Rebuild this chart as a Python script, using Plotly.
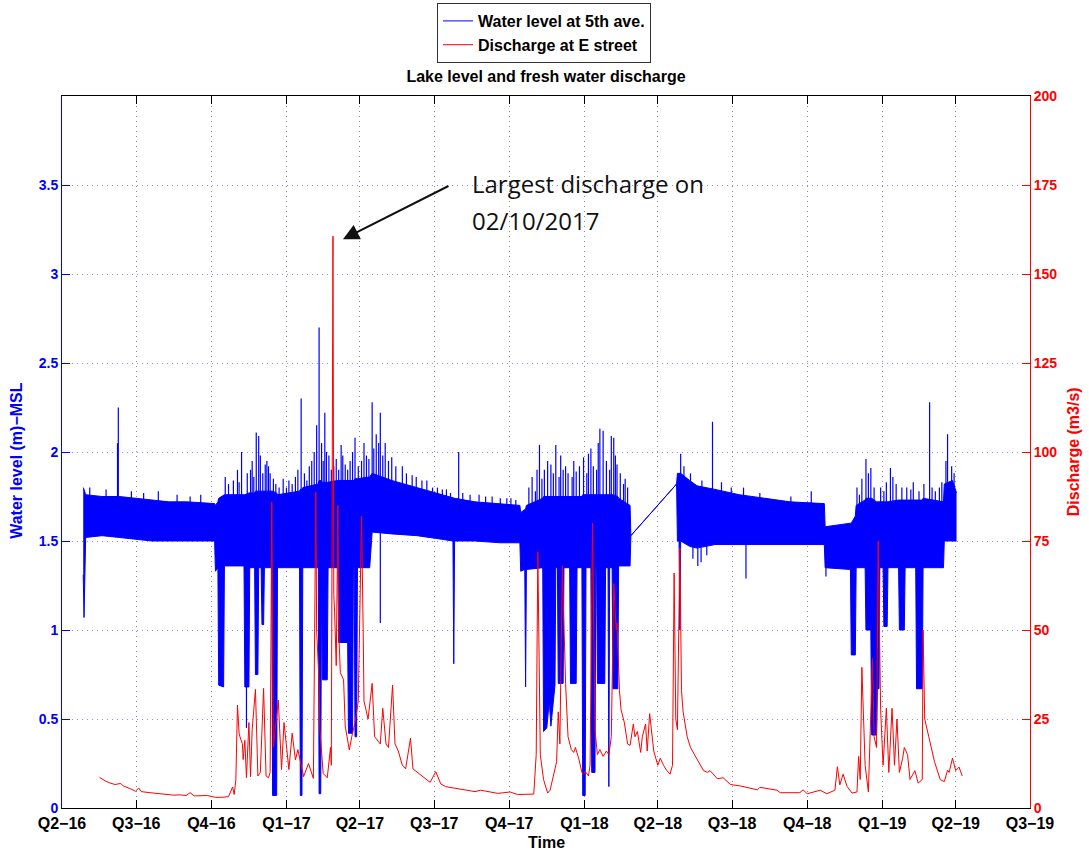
import plotly.graph_objects as go

# ---------------- Discharge at E street (m3/s) ----------------
q_dates = [
    "2016-05-17", "2016-05-24", "2016-05-30", "2016-06-05", "2016-06-12", "2016-06-15", "2016-06-24", "2016-06-30",
    "2016-07-04", "2016-07-07", "2016-07-18", "2016-07-30", "2016-08-16", "2016-08-24", "2016-08-31", "2016-09-05",
    "2016-09-10", "2016-09-26", "2016-10-06", "2016-10-14", "2016-10-22", "2016-10-27", "2016-10-29", "2016-10-31",
    "2016-11-02", "2016-11-04", "2016-11-05", "2016-11-08", "2016-11-09", "2016-11-11", "2016-11-13", "2016-11-16",
    "2016-11-18", "2016-11-20", "2016-11-24", "2016-11-27", "2016-11-30", "2016-12-04", "2016-12-07", "2016-12-10",
    "2016-12-12", "2016-12-14", "2016-12-15", "2016-12-16", "2016-12-22", "2016-12-26", "2016-12-29", "2017-01-04",
    "2017-01-08", "2017-01-12", "2017-01-15", "2017-01-18", "2017-01-22", "2017-01-28", "2017-02-03", "2017-02-06",
    "2017-02-07", "2017-02-10", "2017-02-11", "2017-02-15", "2017-02-20", "2017-02-24", "2017-02-25", "2017-02-27",
    "2017-02-28", "2017-03-01", "2017-03-03", "2017-03-05", "2017-03-06", "2017-03-08", "2017-03-12", "2017-03-14",
    "2017-03-19", "2017-03-22", "2017-03-26", "2017-03-30", "2017-04-03", "2017-04-05", "2017-04-06", "2017-04-09",
    "2017-04-11", "2017-04-16", "2017-04-19", "2017-04-26", "2017-04-29", "2017-05-03", "2017-05-06", "2017-05-11",
    "2017-05-14", "2017-05-18", "2017-05-23", "2017-05-27", "2017-06-02", "2017-06-05", "2017-06-14", "2017-06-24",
    "2017-06-26", "2017-07-03", "2017-07-09", "2017-07-15", "2017-07-30", "2017-08-20", "2017-08-27", "2017-09-17",
    "2017-10-02", "2017-10-11", "2017-10-31", "2017-11-03", "2017-11-05", "2017-11-08", "2017-11-12", "2017-11-17",
    "2017-11-20", "2017-11-24", "2017-11-28", "2017-11-30", "2017-12-02", "2017-12-05", "2017-12-09", "2017-12-12",
    "2017-12-16", "2017-12-19", "2017-12-21", "2017-12-25", "2017-12-29", "2017-12-31", "2018-01-02", "2018-01-06",
    "2018-01-08", "2018-01-11", "2018-01-14", "2018-01-17", "2018-01-20", "2018-01-24", "2018-01-28", "2018-01-31",
    "2018-02-03", "2018-02-06", "2018-02-09", "2018-02-10", "2018-02-13", "2018-02-15", "2018-02-19", "2018-02-23",
    "2018-02-26", "2018-03-02", "2018-03-04", "2018-03-07", "2018-03-11", "2018-03-13", "2018-03-17", "2018-03-19",
    "2018-03-22", "2018-03-27", "2018-04-01", "2018-04-04", "2018-04-08", "2018-04-12", "2018-04-16", "2018-04-19",
    "2018-04-21", "2018-04-23", "2018-04-25", "2018-04-28", "2018-04-30", "2018-05-02", "2018-05-07", "2018-05-11",
    "2018-05-19", "2018-05-27", "2018-06-01", "2018-06-04", "2018-06-13", "2018-06-20", "2018-06-29", "2018-07-11",
    "2018-08-01", "2018-08-04", "2018-08-25", "2018-08-29", "2018-09-22", "2018-09-26", "2018-10-01", "2018-10-17",
    "2018-10-25", "2018-11-04", "2018-11-07", "2018-11-10", "2018-11-14", "2018-11-19", "2018-11-25", "2018-12-01",
    "2018-12-03", "2018-12-05", "2018-12-07", "2018-12-11", "2018-12-15", "2018-12-20", "2018-12-22", "2018-12-25",
    "2018-12-27", "2018-12-30", "2019-01-02", "2019-01-06", "2019-01-09", "2019-01-13", "2019-01-16", "2019-01-19",
    "2019-01-22", "2019-01-26", "2019-01-28", "2019-02-01", "2019-02-04", "2019-02-10", "2019-02-14", "2019-02-19",
    "2019-02-20", "2019-02-22", "2019-02-27", "2019-03-06", "2019-03-13", "2019-03-18", "2019-03-22", "2019-03-24",
    "2019-03-28", "2019-04-01", "2019-04-05", "2019-04-09",
]
q_vals = [
    8.6, 7.6, 7.0, 6.6, 6.9, 6.2, 5.4, 4.7,
    5.6, 4.6, 4.3, 4.0, 3.6, 3.7, 3.5, 4.3,
    3.4, 3.5, 3.0, 3.0, 3.2, 5.9, 3.8, 8.0,
    28.9, 21.0, 20.0, 18.0, 13.6, 19.0, 8.5, 24.0,
    8.8, 22.0, 33.3, 9.0, 10.0, 33.6, 9.0, 8.5,
    10.0, 86.0, 30.0, 17.2, 30.3, 10.8, 24.0, 10.8,
    21.0, 13.5, 16.4, 13.0, 8.8, 12.5, 8.3, 88.7,
    50.0, 35.0, 22.0, 9.7, 8.5, 17.0, 12.0, 160.6,
    60.0, 55.0, 40.0, 85.0, 50.0, 38.0, 36.0, 23.0,
    16.3, 20.0, 24.0, 30.0, 82.0, 50.0, 30.0, 27.0,
    25.0, 35.0, 20.0, 18.0, 28.0, 18.0, 17.0, 34.5,
    18.0, 16.0, 12.0, 11.0, 19.6, 11.0, 9.3, 7.6,
    7.2, 10.2, 6.8, 6.0, 5.4, 4.6, 5.0, 4.1,
    4.5, 3.8, 3.9, 15.0, 72.0, 15.0, 8.0, 4.2,
    5.0, 9.0, 13.0, 27.0, 18.0, 68.0, 35.0, 20.0,
    16.4, 15.6, 17.0, 14.0, 10.0, 9.5, 10.3, 9.0,
    12.0, 80.0, 22.0, 15.0, 16.4, 14.5, 16.0, 15.0,
    20.0, 63.0, 50.0, 52.0, 33.0, 27.5, 24.0, 18.0,
    17.6, 23.6, 20.0, 21.5, 15.6, 20.0, 23.6, 16.0,
    26.5, 16.0, 12.0, 14.0, 12.0, 10.5, 9.5, 12.0,
    66.0, 25.0, 22.0, 73.0, 33.0, 27.0, 20.0, 17.0,
    13.6, 10.5, 10.0, 10.5, 8.2, 8.5, 6.6, 6.2,
    5.1, 5.8, 5.0, 4.3, 4.3, 5.1, 4.0, 5.0,
    4.0, 5.0, 11.6, 6.5, 9.5, 6.0, 4.2, 4.5,
    14.5, 8.0, 39.5, 12.0, 4.5, 42.0, 20.0, 17.0,
    75.0, 27.6, 12.0, 28.0, 10.0, 28.0, 12.0, 25.0,
    10.0, 14.0, 17.0, 15.0, 8.0, 10.5, 7.0, 8.0,
    50.0, 25.0, 20.0, 13.0, 8.0, 7.4, 10.6, 10.0,
    14.0, 10.5, 11.5, 9.0,
]

# ---------------- Water level at 5th ave. (m, MSL): daily low / high envelope ----------------
wl_dates = [
    "2016-04-27", "2016-04-28", "2016-04-30", "2016-05-20", "2016-06-10", "2016-07-01", "2016-07-20", "2016-08-10",
    "2016-09-01", "2016-09-25", "2016-10-05", "2016-10-06", "2016-10-09", "2016-10-10", "2016-10-16", "2016-10-17",
    "2016-11-10", "2016-11-11", "2016-11-16", "2016-11-17", "2016-11-23", "2016-11-24", "2016-11-27", "2016-11-28",
    "2016-12-01", "2016-12-02", "2016-12-04", "2016-12-05", "2016-12-14", "2016-12-15", "2016-12-20", "2016-12-21",
    "2017-01-17", "2017-01-18", "2017-01-20", "2017-01-21", "2017-02-09", "2017-02-10", "2017-02-12", "2017-02-13",
    "2017-02-14", "2017-02-20", "2017-02-21", "2017-03-05", "2017-03-06", "2017-03-17", "2017-03-18", "2017-03-23",
    "2017-03-24", "2017-03-25", "2017-03-26", "2017-03-28", "2017-03-29", "2017-04-13", "2017-04-16", "2017-05-10",
    "2017-06-10", "2017-07-10", "2017-07-24", "2017-07-25", "2017-07-26", "2017-08-20", "2017-09-20", "2017-10-14",
    "2017-10-15", "2017-10-20", "2017-10-21", "2017-10-22", "2017-11-11", "2017-11-12", "2017-11-16", "2017-11-19",
    "2017-11-21", "2017-11-26", "2017-11-27", "2017-11-29", "2017-11-30", "2017-12-06", "2017-12-07", "2017-12-14",
    "2017-12-15", "2017-12-22", "2017-12-23", "2017-12-29", "2017-12-30", "2018-01-02", "2018-01-03", "2018-01-09",
    "2018-01-10", "2018-01-14", "2018-01-15", "2018-01-16", "2018-01-17", "2018-01-26", "2018-01-27", "2018-01-30",
    "2018-01-31", "2018-02-01", "2018-02-04", "2018-02-05", "2018-02-11", "2018-02-12", "2018-02-26", "2018-02-27",
    "2018-04-24", "2018-04-25", "2018-04-27", "2018-04-28", "2018-04-29", "2018-05-10", "2018-05-19", "2018-06-10",
    "2018-07-10", "2018-08-10", "2018-09-10", "2018-10-22", "2018-10-23", "2018-11-23", "2018-11-24", "2018-11-29",
    "2018-11-30", "2018-12-11", "2018-12-12", "2018-12-18", "2018-12-19", "2018-12-25", "2018-12-26", "2018-12-28",
    "2018-12-29", "2019-01-02", "2019-01-03", "2019-01-07", "2019-01-08", "2019-01-21", "2019-01-22", "2019-01-28",
    "2019-01-29", "2019-02-11", "2019-02-12", "2019-02-19", "2019-02-20", "2019-03-17", "2019-03-18", "2019-03-28",
    "2019-04-02",
]
wl_min = [
    1.31, 1.07, 1.52, 1.53, 1.52, 1.51, 1.50, 1.50,
    1.50, 1.50, 1.50, 1.33, 1.35, 0.69, 0.68, 1.36,
    1.36, 0.68, 0.68, 1.35, 1.35, 0.75, 0.75, 1.35,
    1.35, 1.03, 1.03, 1.35, 1.35, 0.07, 0.07, 1.35,
    1.35, 0.07, 0.07, 1.35, 1.35, 0.08, 0.08, 1.35,
    0.72, 0.72, 1.35, 1.35, 0.93, 0.93, 0.42, 0.42,
    1.35, 1.35, 0.40, 0.40, 1.35, 1.35, 1.55, 1.54,
    1.53, 1.51, 1.50, 0.81, 1.50, 1.50, 1.49, 1.49,
    1.33, 1.34, 0.68, 1.34, 1.35, 0.43, 0.45, 0.60,
    0.46, 0.69, 1.35, 1.35, 0.70, 0.70, 1.35, 1.35,
    0.70, 0.70, 1.35, 1.35, 0.07, 0.07, 1.35, 1.35,
    0.20, 0.20, 1.35, 1.35, 0.70, 0.70, 1.35, 1.35,
    0.12, 1.35, 1.35, 0.67, 0.67, 1.36, 1.36, 1.53,
    1.82, 1.50, 1.50, 1.00, 1.50, 1.47, 1.46, 1.48,
    1.48, 1.48, 1.48, 1.48, 1.35, 1.34, 0.86, 0.86,
    1.35, 1.35, 1.00, 1.00, 0.41, 0.41, 0.67, 0.67,
    1.35, 1.35, 1.02, 1.02, 1.35, 1.35, 1.00, 1.00,
    1.35, 1.35, 0.67, 0.67, 1.35, 1.35, 1.50, 1.50,
    1.50,
]
wl_max = [
    1.80, 1.79, 1.76, 1.75, 1.75, 1.74, 1.73, 1.72,
    1.72, 1.71, 1.71, 1.70, 1.72, 1.74, 1.76, 1.76,
    1.76, 1.76, 1.77, 1.77, 1.77, 1.78, 1.78, 1.78,
    1.78, 1.78, 1.78, 1.78, 1.78, 1.78, 1.77, 1.76,
    1.78, 1.79, 1.79, 1.80, 1.82, 1.84, 1.84, 1.83,
    1.83, 1.83, 1.83, 1.84, 1.84, 1.84, 1.84, 1.84,
    1.84, 1.84, 1.85, 1.85, 1.85, 1.86, 1.88, 1.84,
    1.80, 1.76, 1.74, 1.74, 1.74, 1.72, 1.71, 1.70,
    1.66, 1.68, 1.68, 1.70, 1.74, 1.75, 1.75, 1.75,
    1.75, 1.75, 1.75, 1.75, 1.75, 1.75, 1.75, 1.75,
    1.75, 1.75, 1.75, 1.75, 1.76, 1.76, 1.76, 1.76,
    1.76, 1.76, 1.76, 1.76, 1.76, 1.76, 1.76, 1.76,
    1.76, 1.76, 1.76, 1.76, 1.75, 1.74, 1.70, 1.53,
    1.82, 1.88, 1.88, 1.88, 1.88, 1.84, 1.81, 1.79,
    1.76, 1.74, 1.72, 1.71, 1.58, 1.60, 1.60, 1.64,
    1.70, 1.73, 1.74, 1.74, 1.74, 1.72, 1.72, 1.72,
    1.72, 1.72, 1.72, 1.72, 1.72, 1.73, 1.73, 1.73,
    1.73, 1.73, 1.73, 1.73, 1.74, 1.72, 1.82, 1.84,
    1.77,
]

# Short excursions of the water level (date, lowest, highest)
ex_dates = [
    "2016-05-05", "2016-05-25", "2016-06-08", "2016-06-09", "2016-06-25", "2016-07-10", "2016-07-28", "2016-08-20",
    "2016-09-05", "2016-09-18", "2016-10-18", "2016-10-22", "2016-10-28", "2016-11-02", "2016-11-04", "2016-11-07",
    "2016-11-14", "2016-11-18", "2016-11-20", "2016-11-22", "2016-11-25", "2016-11-28", "2016-11-30", "2016-12-03",
    "2016-12-06", "2016-12-08", "2016-12-10", "2016-12-12", "2016-12-16", "2016-12-19", "2016-12-23", "2016-12-28",
    "2017-01-01", "2017-01-04", "2017-01-08", "2017-01-12", "2017-01-15", "2017-01-19", "2017-01-23", "2017-01-26",
    "2017-01-29", "2017-02-01", "2017-02-04", "2017-02-07", "2017-02-10", "2017-02-13", "2017-02-15", "2017-02-17",
    "2017-02-19", "2017-02-22", "2017-02-25", "2017-02-28", "2017-03-03", "2017-03-06", "2017-03-09", "2017-03-11",
    "2017-03-14", "2017-03-17", "2017-03-20", "2017-03-23", "2017-03-26", "2017-03-30", "2017-04-03", "2017-04-06",
    "2017-04-09", "2017-04-12", "2017-04-16", "2017-04-18", "2017-04-21", "2017-04-24", "2017-04-26", "2017-04-29",
    "2017-05-02", "2017-05-06", "2017-05-10", "2017-05-15", "2017-05-23", "2017-05-28", "2017-06-04", "2017-06-09",
    "2017-06-16", "2017-06-22", "2017-06-29", "2017-07-05", "2017-07-11", "2017-07-16", "2017-07-21", "2017-07-31",
    "2017-08-05", "2017-08-14", "2017-08-25", "2017-09-02", "2017-09-10", "2017-09-20", "2017-09-28", "2017-10-03",
    "2017-10-09", "2016-11-13", "2017-04-26",
    "2017-10-25", "2017-10-29", "2017-11-02", "2017-11-04", "2017-11-07", "2017-11-10", "2017-11-13", "2017-11-17",
    "2017-11-21", "2017-11-24", "2017-11-27", "2017-12-01", "2017-12-03", "2017-12-06", "2017-12-09", "2017-12-12",
    "2017-12-17", "2017-12-19", "2017-12-22", "2017-12-26", "2017-12-31", "2018-01-04", "2018-01-06", "2018-01-09",
    "2018-01-12", "2018-01-16", "2018-01-18", "2018-01-20", "2018-01-24", "2018-01-28", "2018-02-01", "2018-02-03",
    "2018-02-06", "2018-02-08", "2018-02-10", "2018-02-14", "2018-02-18", "2018-02-20", "2018-02-23",
    "2018-04-29", "2018-05-03", "2018-05-11", "2018-05-25", "2018-06-07", "2018-06-18", "2018-06-30", "2018-07-15",
    "2018-08-04", "2018-09-11", "2018-10-06", "2018-05-14", "2018-05-20", "2018-05-24", "2018-05-31", "2018-07-18",
    "2018-10-24", "2018-12-01", "2018-12-04", "2018-12-07", "2018-12-12", "2018-12-15", "2018-12-18", "2018-12-22",
    "2018-12-30", "2019-01-03", "2019-01-06", "2019-01-11", "2019-01-14", "2019-01-18", "2019-01-25", "2019-01-31",
    "2019-02-05", "2019-02-08", "2019-02-15", "2019-02-21", "2019-02-28", "2019-03-03", "2019-03-07", "2019-03-12",
    "2019-03-15", "2019-03-20", "2019-03-22", "2019-03-27", "2019-03-30",
]
ex_low = [
    1.74, 1.74, 1.74, 1.74, 1.73, 1.73, 1.72, 1.71,
    1.70, 1.70, 1.74, 1.74, 1.74, 1.74, 1.74, 1.75,
    1.75, 1.76, 1.76, 1.76, 1.76, 1.76, 1.76, 1.76,
    1.76, 1.76, 1.76, 1.76, 1.75, 1.74, 1.74, 1.74,
    1.76, 1.76, 1.76, 1.76, 1.76, 1.77, 1.78, 1.78,
    1.78, 1.79, 1.80, 1.80, 1.82, 1.82, 1.82, 1.82,
    1.82, 1.82, 1.82, 1.82, 1.82, 1.82, 1.82, 1.82,
    1.82, 1.82, 1.82, 1.82, 1.83, 1.83, 1.83, 1.84,
    1.84, 1.84, 1.86, 1.86, 1.86, 1.86, 1.86, 1.85,
    1.84, 1.83, 1.82, 1.81, 1.80, 1.79, 1.78, 1.78,
    1.77, 1.76, 1.75, 1.75, 1.74, 1.74, 1.73, 1.73,
    1.72, 1.72, 1.72, 1.71, 1.71, 1.70, 1.70, 1.70,
    1.69, 0.45, 1.04,
    1.66, 1.66, 1.68, 1.70, 1.72, 1.73, 1.73, 1.73,
    1.73, 1.73, 1.73, 1.73, 1.73, 1.73, 1.73, 1.73,
    1.73, 1.73, 1.73, 1.73, 1.73, 1.73, 1.73, 1.73,
    1.73, 1.73, 1.73, 1.73, 1.73, 1.73, 1.73, 1.73,
    1.73, 1.73, 1.73, 1.72, 1.72, 1.71, 1.70,
    1.86, 1.84, 1.82, 1.78, 1.78, 1.77, 1.75, 1.74,
    1.73, 1.71, 1.70, 1.40, 1.36, 1.38, 1.42, 1.29,
    1.30, 1.64, 1.68, 1.70, 1.72, 1.72, 1.72, 1.70,
    1.70, 1.70, 1.70, 1.70, 1.70, 1.70, 1.70, 1.71,
    1.71, 1.71, 1.71, 1.71, 1.71, 1.71, 1.71, 1.71,
    1.71, 1.80, 1.80, 1.80, 1.80,
]
ex_high = [
    1.80, 1.79, 2.05, 2.25, 1.78, 1.77, 1.78, 1.76,
    1.75, 1.76, 1.86, 1.82, 1.84, 1.90, 1.83, 2.00,
    1.88, 1.90, 1.95, 1.86, 2.11, 2.09, 1.98, 1.88,
    1.93, 1.95, 1.92, 1.88, 1.85, 1.82, 1.80, 1.85,
    1.80, 1.84, 1.82, 1.86, 1.90, 2.30, 1.88, 1.84,
    1.92, 1.95, 2.00, 2.15, 2.70, 2.05, 1.95, 2.22,
    2.00, 1.98, 1.90, 1.92, 1.96, 1.90, 2.04, 1.98,
    1.93, 1.90, 1.95, 2.00, 2.08, 1.92, 1.95, 2.05,
    1.98, 1.96, 2.28, 2.02, 2.10, 2.05, 2.22, 1.98,
    2.05, 1.95, 1.97, 1.92, 1.92, 1.88, 1.87, 1.86,
    1.84, 1.84, 1.80, 1.80, 1.79, 1.79, 1.77, 2.00,
    1.77, 1.76, 1.76, 1.75, 1.75, 1.74, 1.74, 1.74,
    1.73, 1.36, 1.55,
    1.80, 1.86, 1.78, 1.90, 2.04, 1.85, 1.90, 1.95,
    1.93, 1.88, 2.04, 1.86, 1.98, 1.90, 1.92, 1.88,
    1.86, 1.95, 1.89, 1.92, 1.97, 1.88, 1.99, 2.02,
    1.92, 1.90, 2.05, 2.13, 2.12, 1.95, 1.90, 2.09,
    2.08, 1.98, 1.93, 1.88, 1.82, 1.85, 1.80,
    1.99, 1.92, 1.88, 1.84, 2.17, 1.83, 1.80, 1.80,
    1.77, 1.75, 1.78, 1.47, 1.46, 1.46, 1.48, 1.48,
    1.36, 1.80, 1.76, 1.85, 1.96, 1.88, 1.91, 1.80,
    1.80, 1.78, 1.83, 1.91, 1.86, 1.82, 1.80, 1.80,
    1.79, 1.83, 1.78, 1.82, 2.28, 1.80, 1.78, 1.80,
    1.83, 1.95, 2.10, 1.92, 1.88,
]

# ---------------- Axis ticks ----------------
quarter_dates = [
    "2016-04-01", "2016-07-01", "2016-10-01", "2017-01-01", "2017-04-01", "2017-07-01", "2017-10-01",
    "2018-01-01", "2018-04-01", "2018-07-01", "2018-10-01", "2019-01-01", "2019-04-01", "2019-07-01",
]
quarter_labels = [
    "Q2\u221216", "Q3\u221216", "Q4\u221216", "Q1\u221217", "Q2\u221217", "Q3\u221217", "Q4\u221217",
    "Q1\u221218", "Q2\u221218", "Q3\u221218", "Q4\u221218", "Q1\u221219", "Q2\u221219", "Q3\u221219",
]
level_ticks = [0, 0.5, 1, 1.5, 2, 2.5, 3, 3.5]
discharge_ticks = [0, 25, 50, 75, 100, 125, 150, 175, 200]

BLUE = "#0000ff"
RED = "#ff0000"
FONT = "Liberation Sans"

fig = go.Figure()

# Water level band (daily low / high)
fig.add_trace(go.Scatter(
    x=wl_dates, y=wl_min, mode="lines", line=dict(color=BLUE, width=1),
    name="Water level at 5th ave.", hoverinfo="skip",
))
fig.add_trace(go.Scatter(
    x=wl_dates, y=wl_max, mode="lines", line=dict(color=BLUE, width=1),
    fill="tonexty", fillcolor=BLUE, showlegend=False, hoverinfo="skip",
))
# Short excursions as vertical strokes
ex_x, ex_y = [], []
for d, lo, hi in zip(ex_dates, ex_low, ex_high):
    ex_x += [d, d, None]
    ex_y += [lo, hi, None]
fig.add_trace(go.Scatter(
    x=ex_x, y=ex_y, mode="lines", line=dict(color=BLUE, width=1.2),
    showlegend=False, hoverinfo="skip", connectgaps=False,
))

# Discharge
fig.add_trace(go.Scatter(
    x=q_dates, y=q_vals, mode="lines", line=dict(color=RED, width=1),
    name="Discharge at E street", yaxis="y2",
))

# Arrow to the largest discharge
imax = max(range(len(q_vals)), key=lambda i: q_vals[i])
fig.add_annotation(
    x=q_dates[imax], y=q_vals[imax], xref="x", yref="y2",
    xshift=10, yshift=-3, text="", showarrow=True,
    arrowhead=2, arrowsize=1.6, arrowwidth=2, arrowcolor="#111111",
    ax=107, ay=-54,
)
fig.add_annotation(
    x=0.4215, y=0.877, xref="paper", yref="paper", xanchor="left", yanchor="middle",
    text="Largest discharge on", showarrow=False,
    font=dict(family="Open Sans", size=24, color="#111111"),
)
fig.add_annotation(
    x=0.4215, y=0.825, xref="paper", yref="paper", xanchor="left", yanchor="middle",
    text="02/10/2017", showarrow=False,
    font=dict(family="Open Sans", size=24, color="#111111"),
)

# Axis titles
fig.add_annotation(
    x=0.5, y=-0.0478, xref="paper", yref="paper", xanchor="center", yanchor="middle",
    text="Time", showarrow=False, font=dict(family=FONT, size=16, color="black", weight="bold"),
)
fig.add_annotation(
    x=-0.0465, y=0.489, xref="paper", yref="paper", xanchor="center", yanchor="middle",
    text="Water level (m)\u2212MSL", textangle=-90, showarrow=False,
    font=dict(family=FONT, size=16, color=BLUE, weight="bold"),
)
fig.add_annotation(
    x=1.0444, y=0.501, xref="paper", yref="paper", xanchor="center", yanchor="middle",
    text="Discharge (m3/s)", textangle=-90, showarrow=False,
    font=dict(family=FONT, size=16, color=RED, weight="bold"),
)

fig.update_layout(
    width=1089, height=855,
    margin=dict(l=62, r=59, t=96, b=47, autoexpand=False),
    paper_bgcolor="white", plot_bgcolor="white",
    font=dict(family=FONT, size=14, color="black"),
    title=dict(
        text="Lake level and fresh water discharge", x=0.5, xref="paper", xanchor="center",
        y=1 - 76 / 855, yanchor="middle",
        font=dict(family=FONT, size=16, color="black", weight="bold"),
    ),
    showlegend=True,
    legend=dict(
        xref="container", yref="container",
        x=544 / 1089, y=1 - 3 / 855, xanchor="center", yanchor="top",
        bgcolor="white", bordercolor="#333333", borderwidth=1,
        font=dict(family=FONT, size=16, color="black", weight="bold"),
        traceorder="normal", tracegroupgap=0,
    ),
    xaxis=dict(
        type="date", range=["2016-04-01", "2019-07-01"],
        tickmode="array", tickvals=quarter_dates, ticktext=quarter_labels,
        ticks="inside", ticklen=8, tickcolor="black", tickwidth=1,
        showline=True, linecolor="black", linewidth=1, mirror="ticks",
        showgrid=True, gridcolor="#8c8c8c", griddash="1px,4px", gridwidth=1,
        tickfont=dict(family=FONT, size=16, color="black", weight="bold"),
        ticklabelstandoff=1,
        zeroline=False,
    ),
    yaxis=dict(
        range=[0, 4], tickmode="array", tickvals=level_ticks,
        ticks="inside", ticklen=8, tickcolor=BLUE,
        showline=True, linecolor=BLUE, linewidth=1,
        showgrid=True, gridcolor="#8c8cff", griddash="1px,4px", gridwidth=1,
        tickfont=dict(family=FONT, size=14, color=BLUE, weight="bold"),
        zeroline=False,
    ),
    yaxis2=dict(
        range=[0, 200], overlaying="y", side="right", tickmode="array", tickvals=discharge_ticks,
        ticks="inside", ticklen=8, tickcolor=RED,
        showline=True, linecolor=RED, linewidth=1,
        showgrid=False, zeroline=False,
        tickfont=dict(family=FONT, size=14, color=RED, weight="bold"),
    ),
)

fig.write_html("out.html")
